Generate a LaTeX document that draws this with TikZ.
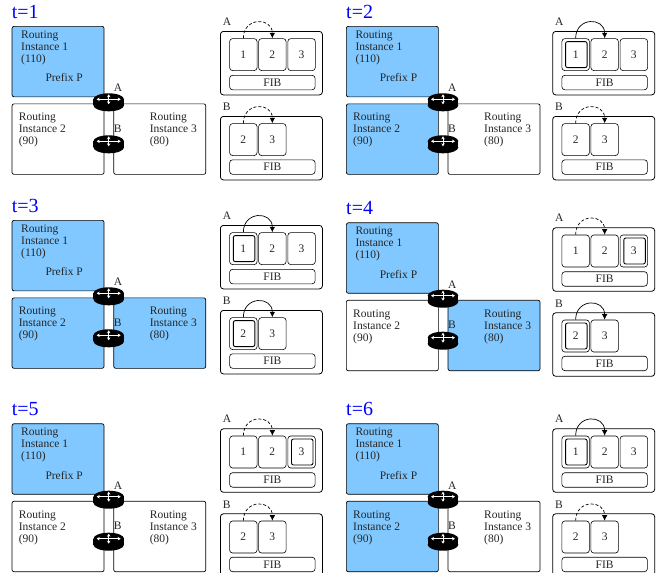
\documentclass[tikz,border=0pt]{standalone}
\usepackage{fontspec}
\usetikzlibrary{arrows.meta}
\setmainfont{Liberation Serif}
\definecolor{instblue}{RGB}{128,200,255}

\newcommand*{\pagew}{657}
\newcommand*{\pageh}{573}

% black router with white arrows, #1 = centre of the top face
\newcommand*{\router}[1]{
	\begin{scope}[shift={#1}]
		\fill[black] (0,0) ellipse[x radius=15.3,y radius=6];
		\fill[black] (0,6) ellipse[x radius=15.3,y radius=6];
		\fill[black] (-15.3,0) rectangle (15.3,6);
		\draw[routerarrow] (-12,0) -- (12,0);
		\draw[routerarrow] (0,-5) -- (0,5);
	\end{scope}
}

\begin{document}
\begin{tikzpicture}
[
	x=1pt,y=-1pt,
	every node/.style={font=\fontsize{11.5}{12}\selectfont,text=black!85},
	instbox/.style={draw,line width=0.7pt,rounded corners=2pt,anchor=north west,inner sep=0pt,minimum width=92pt,minimum height=70.5pt},
	insttext/.style={anchor=north west,inner sep=0pt,align=left},
	title/.style={anchor=base west,inner sep=0pt,text=blue,font=\fontsize{20}{20}\selectfont},
	smalllabel/.style={anchor=base west,inner sep=0pt},
	routerarrow/.style={white,line width=0.8pt,{Stealth[length=3pt,width=3.5pt]}-{Stealth[length=3pt,width=3.5pt]}},
	fibpanel/.style={draw,line width=0.8pt,rounded corners=3pt,anchor=north west,inner sep=0pt,minimum width=102pt,minimum height=63.5pt},
	cellbox/.style={draw,line width=0.6pt,rounded corners=3pt,anchor=north west,inner sep=0pt,minimum width=27.5pt,minimum height=32pt},
	innercell/.style={draw,line width=0.9pt,rounded corners=2pt,inner sep=0pt,minimum width=21.5pt,minimum height=26pt,xshift=0.7pt},
	fibbox/.style={draw,line width=0.6pt,rounded corners=3pt,anchor=north west,inner sep=0pt,minimum width=85.5pt,minimum height=14.5pt},
	solidarc/.style={line width=0.7pt,-{Latex[length=5.5pt,width=5.5pt]}},
	dashedarc/.style={line width=0.7pt,densely dashed,-{Latex[length=5.5pt,width=5.5pt]}}
]

	\useasboundingbox (0,0) rectangle (\pagew,\pageh);

	% t / box offset / fib offset / y offset / fills of instance 2,3 / arcs / doubled cell
	\foreach \t/\ox/\fx/\oy/\fb/\fc/\arcA/\arcB/\dblA/\dblB in {
		1/0/0/0/white/white/dashedarc/dashedarc/0/0,
		2/334.3/332.3/0/instblue/white/solidarc/dashedarc/1/0,
		3/0/0/194/instblue/instblue/solidarc/solidarc/1/2,
		4/334.3/332.3/196.4/white/instblue/dashedarc/solidarc/3/2,
		5/0/0/397.4/white/white/dashedarc/dashedarc/3/0,
		6/334.3/332.3/397.4/instblue/white/solidarc/dashedarc/1/0} {

		% routing instances
		\begin{scope}[shift={(\ox,\oy)}]
			\node[title] (title) at (11.7,18) {t=\t};
			\node[instbox,fill=instblue] (inst1) at (11.7,26) {};
			\node[instbox,fill=\fb] (inst2) at (11.7,103.5) {};
			\node[instbox,fill=\fc] (inst3) at (113.4,103.5) {};
			\node[insttext] (txt1) at (21,30.4) {Routing\\Instance 1\\(110)};
			\node[smalllabel] (prefix) at (45.3,81.7) {Prefix P};
			\node[insttext] (txt2) at (18.7,113.1) {Routing\\Instance 2\\(90)};
			\node[insttext] (txt3) at (149.7,113.1) {Routing\\Instance 3\\(80)};

			% routers
			\router{(108.7,99.3)}
			\router{(108.7,141.3)}
			\node[smalllabel] (lblA) at (113.7,91.7) {A};
			\node[smalllabel] (lblB) at (113.7,132.3) {B};
		\end{scope}

		% tables
		\begin{scope}[shift={(\fx,\oy)}]
			\node[smalllabel] (nameA) at (222.7,25) {A};
			\node[fibpanel] (panelA) at (220,31) {};
			\node[cellbox] (a1) at (229.3,38.3) {1};
			\node[cellbox] (a2) at (258.3,38.3) {2};
			\node[cellbox] (a3) at (287.5,38.3) {3};
			\node[fibbox] (fibA) at (229.3,75) {FIB};
			\ifnum\dblA>0 \node[innercell] (dblcellA) at (a\dblA) {}; \fi
			\draw[\arcA] (a1.north) to[out=90,in=90,looseness=1.9] (a2.north);

			\node[smalllabel] (nameB) at (222.7,110.7) {B};
			\node[fibpanel] (panelB) at (220,116) {};
			\node[cellbox] (b2) at (229.3,123.3) {2};
			\node[cellbox] (b3) at (258.3,123.3) {3};
			\node[fibbox] (fibB) at (229.3,159.5) {FIB};
			\ifnum\dblB>0 \node[innercell] (dblcellB) at (b\dblB) {}; \fi
			\draw[\arcB] (b2.north) to[out=90,in=90,looseness=1.9] (b3.north);
		\end{scope}
	}

\end{tikzpicture}
\end{document}
